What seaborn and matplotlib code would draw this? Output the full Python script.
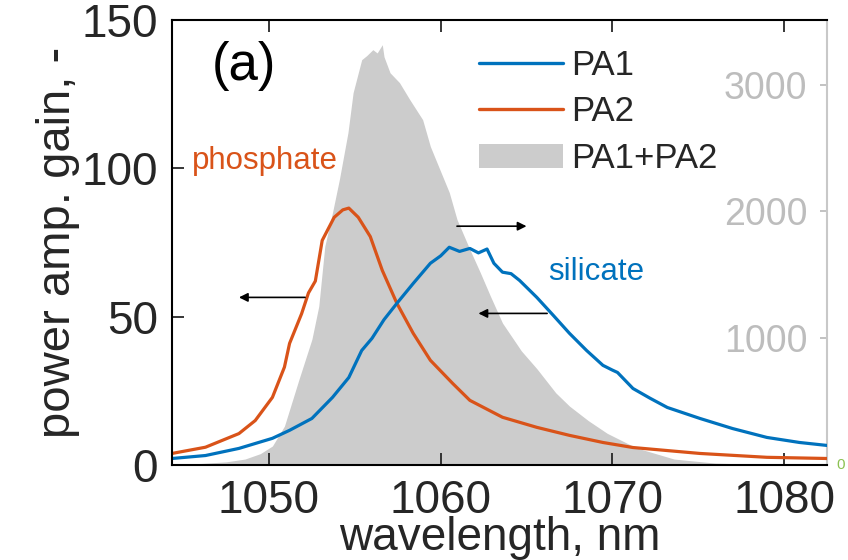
import matplotlib
matplotlib.use("Agg")
import matplotlib.pyplot as plt
import seaborn as sns
from matplotlib.lines import Line2D
from matplotlib.patches import Patch

# PA1 (silicate) small-signal gain vs wavelength
pa1_nm = [1044.35, 1046.3, 1048.25, 1050.2, 1051.2, 1052.5, 1053.7, 1054.65, 1055.4, 1056.0,
          1056.7, 1057.45, 1058.4, 1059.4, 1060.0, 1060.5, 1061.1, 1061.7, 1062.2, 1062.7,
          1063.1, 1063.6, 1064.1, 1064.6, 1065.6, 1066.55, 1067.5, 1068.5, 1069.45, 1070.0,
          1070.3, 1071.2, 1072.2, 1073.2, 1075.1, 1077.0, 1079.0, 1080.9, 1082.5]
pa1_gain = [2.2, 3.2, 5.6, 9.0, 11.7, 15.7, 22.8, 29.5, 38.6, 42.7,
            49.0, 54.5, 61.2, 68.0, 70.5, 73.4, 72.0, 73.0, 71.5, 72.8,
            68.0, 65.0, 64.5, 62.2, 56.5, 50.5, 44.4, 38.6, 33.6, 32.0,
            31.2, 25.8, 22.5, 19.4, 15.7, 12.3, 9.3, 7.6, 6.6]

# PA2 (phosphate) small-signal gain vs wavelength
pa2_nm = [1044.35, 1046.3, 1048.25, 1049.2, 1050.2, 1050.9, 1051.2, 1051.9, 1052.3, 1052.7,
          1053.1, 1053.8, 1054.3, 1054.65, 1055.2, 1055.9, 1056.6, 1057.45, 1058.4, 1059.4,
          1060.7, 1061.7, 1063.6, 1065.6, 1067.5, 1069.45, 1071.2, 1075.1, 1079.0, 1082.5]
pa2_gain = [3.9, 6.0, 10.6, 15.0, 22.8, 33.0, 41.0, 51.0, 58.0, 62.0,
            75.7, 83.5, 86.0, 86.6, 83.5, 77.0, 65.6, 54.5, 44.4, 35.3,
            27.5, 21.8, 16.1, 12.7, 10.0, 7.6, 5.9, 3.9, 2.6, 2.2]

# Combined PA1+PA2 spectrum (right axis)
sum_nm = [1044.35, 1046.0, 1047.5, 1048.6, 1049.5, 1050.2, 1050.9, 1051.75, 1052.5, 1052.9,
          1053.25, 1053.7, 1054.1, 1054.6, 1054.9, 1055.4, 1055.7, 1056.05, 1056.3, 1056.6,
          1056.7, 1057.05, 1057.6, 1058.2, 1058.95, 1059.4, 1059.95, 1060.5, 1060.95, 1061.7,
          1062.3, 1062.9, 1063.6, 1064.7, 1065.6, 1066.7, 1067.5, 1068.6, 1069.7, 1071.4,
          1073.6, 1076.0, 1079.0, 1082.5]
sum_power = [5, 12, 25, 47, 90, 150, 307, 677, 992, 1252,
             1724, 1992, 2252, 2622, 2937, 3197, 3230, 3276, 3250, 3315,
             3220, 3094, 3016, 2882, 2724, 2512, 2331, 2150, 1937, 1700,
             1520, 1331, 1120, 900, 760, 570, 465, 350, 250, 135,
             47, 15, 4, 0]

x_ticks = [1050, 1060, 1070, 1080]
left_ticks = [0, 50, 100, 150]
right_ticks = [1000, 2000, 3000]

BLUE = "#0072BD"
ORANGE = "#D95319"
GREY_FILL = "#cccccc"
GREY_TXT = "#bdbdbd"
INK = "#262626"

sns.set_theme(style="white")
plt.rcParams["font.family"] = ["Liberation Sans", "DejaVu Sans"]

fig = plt.figure(figsize=(8.48, 5.6), dpi=100)
ax = fig.add_axes([0.2028, 0.1696, 0.7724, 0.7947])
ax2 = ax.twinx()

# combined spectrum as a filled area on the right axis
ax2.fill_between(sum_nm, sum_power, color=GREY_FILL, lw=0)
ax2.set_ylim(0, 3510)
ax.set_zorder(ax2.get_zorder() + 1)
ax.patch.set_visible(False)

sns.lineplot(x=pa2_nm, y=pa2_gain, ax=ax, color=ORANGE, lw=2.3)
sns.lineplot(x=pa1_nm, y=pa1_gain, ax=ax, color=BLUE, lw=2.3)

ax.set_xlim(1044.35, 1082.5)
ax.set_ylim(0, 150)
ax.set_xticks(x_ticks)
ax.set_yticks(left_ticks)
ax.set_xlabel("wavelength, nm", fontsize=33, color=INK, labelpad=-5)
ax.set_ylabel("power amp. gain, -", fontsize=34, color=INK, labelpad=1)

ax.tick_params(axis="x", direction="in", length=8.5, width=1.3, labelsize=33,
               colors=INK, top=True, bottom=True, pad=10)
ax.tick_params(axis="y", direction="in", length=8.5, width=1.3, labelsize=33,
               colors=INK, left=True, right=False, pad=10)
for side in ["left", "bottom", "top"]:
    ax.spines[side].set_color("black")
    ax.spines[side].set_linewidth(1.5)
ax.spines["right"].set_visible(False)

for side in ["left", "bottom", "top"]:
    ax2.spines[side].set_visible(False)
ax2.spines["right"].set_color("#c8c8c8")
ax2.spines["right"].set_linewidth(1.5)
ax2.set_yticks(right_ticks)
ax2.tick_params(axis="y", direction="in", length=5, width=1.3, labelsize=27,
                colors=GREY_TXT, pad=-14)
for lbl in ax2.get_yticklabels():
    lbl.set_horizontalalignment("right")
ax2.grid(False)
ax.grid(False)

# annotations
ax.text(0.061, 0.897, "(a)", transform=ax.transAxes, fontsize=38, color="black",
        va="center", ha="left")
ax.text(1045.5, 102.4, "phosphate", color=ORANGE, fontsize=22.5, va="center", ha="left")
ax.text(1066.25, 64.9, "silicate", color=BLUE, fontsize=22.5, va="center", ha="left")

arrow_kw = dict(arrowstyle="-|>", color="black", lw=1.2, mutation_scale=13,
                shrinkA=0, shrinkB=0)
ax.annotate("", xy=(1048.25, 56.5), xytext=(1052.1, 56.5), arrowprops=arrow_kw)
ax.annotate("", xy=(1065.0, 80.5), xytext=(1060.95, 80.5), arrowprops=arrow_kw)
ax.annotate("", xy=(1062.2, 51.1), xytext=(1066.2, 51.1), arrowprops=arrow_kw)

ax.text(1.015, 0.0, "0", transform=ax.transAxes, color="#8cc152", fontsize=11,
        va="center", ha="left")

handles = [Line2D([], [], color=BLUE, lw=2.4),
           Line2D([], [], color=ORANGE, lw=2.4),
           Patch(facecolor=GREY_FILL, edgecolor="none")]
ax.legend(handles, ["PA1", "PA2", "PA1+PA2"], loc="upper left",
          bbox_to_anchor=(0.469, 0.935), frameon=False, fontsize=25,
          handlelength=2.4, handletextpad=0.26, labelspacing=0.39, borderpad=0,
          borderaxespad=0)

fig.savefig("out.png", dpi=100)
